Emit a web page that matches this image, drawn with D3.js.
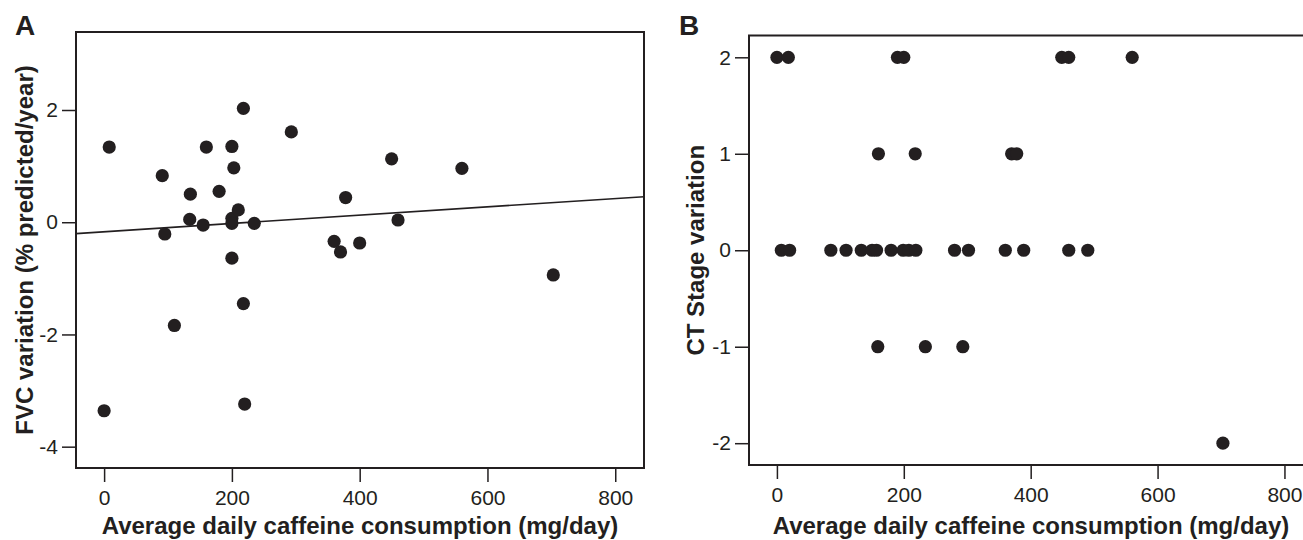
<!DOCTYPE html>
<html>
<head>
<meta charset="utf-8">
<script src="https://cdn.jsdelivr.net/npm/d3@7"></script>
<style>
    body { margin: 0; background: #fff; }
    svg { display: block; font-family: "Liberation Sans", Arial, Helvetica, sans-serif; }
</style>
</head>
<body>
<svg id="chart" width="1303" height="540"></svg>
<script>
'use strict';

// Panel A: caffeine vs yearly FVC change
var fvc_caffeine = [8, 0, 91, 95, 110, 135, 134, 155, 160, 180, 200, 203, 200, 200, 210,
                    200, 218, 218, 220, 235, 293, 360, 370, 400, 378, 450, 460, 560, 703];
var fvc_change = [1.34, -3.36, 0.83, -0.21, -1.84, 0.50, 0.05, -0.05, 1.34, 0.55, 1.35, 0.97, 0.07, -0.02, 0.22,
                  -0.64, 2.03, -1.45, -3.24, -0.02, 1.61, -0.34, -0.53, -0.37, 0.44, 1.13, 0.04, 0.96, -0.94];

// Fitted line
var fit_intercept = -0.17;
var fit_slope = 0.00074;

// Panel B: caffeine vs CT stage change
var ct_caffeine = [0, 18, 190, 200, 449, 460, 560,
                   160, 218, 370, 378,
                   7, 20, 85, 109, 133, 150, 157, 180, 199, 208, 219, 280, 302, 360, 389, 460, 490,
                   159, 234, 293,
                   703];
var ct_change = [2, 2, 2, 2, 2, 2, 2,
                 1, 1, 1, 1,
                 0, 0, 0, 0, 0, 0, 0, 0, 0, 0, 0, 0, 0, 0, 0, 0, 0,
                 -1, -1, -1,
                 -2];

var x_ticks = [0, 200, 400, 600, 800];
var fvc_ticks = [-4, -2, 0, 2];
var ct_ticks = [-2, -1, 0, 1, 2];

var x_title = "Average daily caffeine consumption (mg/day)";

var ink = "#231f20";
var svg = d3.select("#chart");

function draw_panel(opts) {
    var x = d3.scaleLinear().domain([-44, 845]).range([opts.left, opts.right]);
    var y = d3.scaleLinear().domain(opts.y_domain).range([opts.bottom, opts.top]);

    var g = svg.append("g");

    var clip_id = "clip-" + opts.letter;
    g.append("clipPath").attr("id", clip_id)
        .append("rect")
        .attr("x", opts.left).attr("y", opts.top)
        .attr("width", opts.right - opts.left).attr("height", opts.bottom - opts.top);

    var fmt = function(d) { return String(d); };

    var x_axis = g.append("g")
        .attr("transform", "translate(0," + opts.bottom + ")")
        .call(d3.axisBottom(x).tickValues(x_ticks).tickFormat(fmt).tickSize(14).tickPadding(8).tickSizeOuter(0));

    var y_axis = g.append("g")
        .attr("transform", "translate(" + opts.left + ",0)")
        .call(d3.axisLeft(y).tickValues(opts.y_ticks).tickFormat(fmt).tickSize(14).tickPadding(4).tickSizeOuter(0));

    [x_axis, y_axis].forEach(function(a) {
        a.select(".domain").remove();
        a.selectAll(".tick line").attr("stroke", ink).attr("stroke-width", 1.5);
        a.selectAll(".tick text")
            .attr("fill", ink)
            .style("font-size", "21px")
            .style("font-family", "'Liberation Sans', Arial, sans-serif");
    });

    // Regression line (only where given)
    if (opts.fit) {
        var xd = x.domain();
        g.append("line")
            .attr("clip-path", "url(#" + clip_id + ")")
            .attr("x1", x(xd[0])).attr("y1", y(opts.fit[0] + opts.fit[1] * xd[0]))
            .attr("x2", x(xd[1])).attr("y2", y(opts.fit[0] + opts.fit[1] * xd[1]))
            .attr("stroke", ink)
            .attr("stroke-width", 1.6);
    }

    g.append("g")
        .selectAll("circle")
        .data(d3.zip(opts.xs, opts.ys))
        .join("circle")
        .attr("cx", function(d) { return x(d[0]); })
        .attr("cy", function(d) { return y(d[1]); })
        .attr("r", 6.6)
        .attr("fill", ink);

    // Box around the plot
    g.append("rect")
        .attr("x", opts.left).attr("y", opts.top)
        .attr("width", opts.right - opts.left).attr("height", opts.bottom - opts.top)
        .attr("fill", "none")
        .attr("stroke", ink)
        .attr("stroke-width", 2);

    g.append("text")
        .attr("x", (opts.left + opts.right) / 2)
        .attr("y", 534)
        .attr("text-anchor", "middle")
        .attr("fill", ink)
        .style("font-size", "24px")
        .style("font-weight", "bold")
        .text(x_title);

    g.append("text")
        .attr("transform", "translate(" + opts.y_title_x + "," + ((opts.top + opts.bottom) / 2) + ") rotate(-90)")
        .attr("text-anchor", "middle")
        .attr("fill", ink)
        .style("font-size", "24px")
        .style("font-weight", "bold")
        .text(opts.y_title);

    g.append("text")
        .attr("x", opts.letter_x)
        .attr("y", 35)
        .attr("fill", ink)
        .style("font-size", "28px")
        .style("font-weight", "bold")
        .text(opts.letter);
}

draw_panel({
    letter: "A", letter_x: 15,
    left: 76, right: 644, top: 32, bottom: 468,
    y_domain: [-4.38, 3.39], y_ticks: fvc_ticks,
    xs: fvc_caffeine, ys: fvc_change,
    fit: [fit_intercept, fit_slope],
    y_title: "FVC variation (% predicted/year)", y_title_x: 33
});

draw_panel({
    letter: "B", letter_x: 679,
    left: 749, right: 1313, top: 35.5, bottom: 465,
    y_domain: [-2.226, 2.226], y_ticks: ct_ticks,
    xs: ct_caffeine, ys: ct_change,
    y_title: "CT Stage variation", y_title_x: 704
});
</script>
</body>
</html>
